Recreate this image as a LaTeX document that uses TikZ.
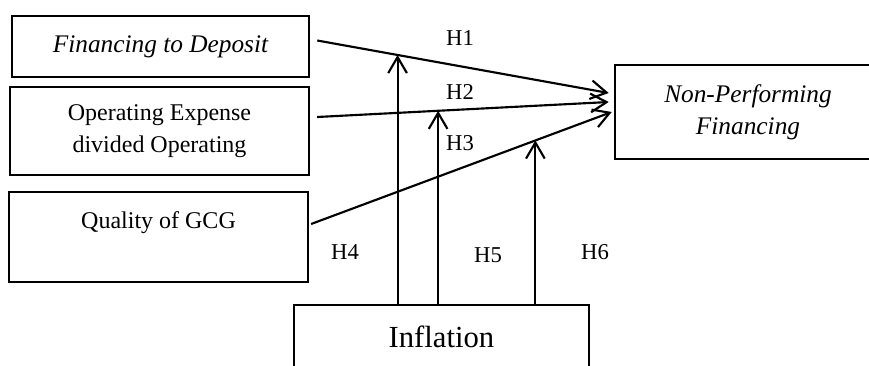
\documentclass[tikz,border=0pt]{standalone}
\usepackage{fontspec}
\setmainfont{Liberation Serif}
\usepackage{xcolor}
\definecolor{PlainInk}{RGB}{0,0,0}
\usetikzlibrary{arrows.meta}

\begin{document}
\begin{tikzpicture}[
    x=0.75pt, y=-0.75pt,
    varbox/.style={
        draw=PlainInk, line width=1.9pt,
        font=\fontsize{18}{24}\selectfont, text=PlainInk,
        align=center, inner sep=0pt
    },
    effect/.style={
        -{Straight Barb[length=12pt, width=14pt, line width=1.6pt]},
        line width=1.6pt, draw=PlainInk
    },
    hlabel/.style={
        font=\fontsize{17}{19}\selectfont, text=PlainInk
    }
]
\useasboundingbox (0,0) rectangle (869,365);

% ====== VARIABLES ======
\node[varbox, minimum width=222.75pt, minimum height=45.75pt] (fdr) at (160.5, 46.5)
    {\fontsize{19}{24}\selectfont\itshape Financing to Deposit};
\node[varbox, minimum width=224pt, minimum height=66pt] (bopo) at (159.5, 131)
    {Operating Expense\\divided Operating};
\node[varbox, minimum width=224pt, minimum height=67.5pt,
      text height=11pt, text depth=24.5pt] (gcg) at (158.5, 237) {Quality of GCG};
\node[varbox, minimum width=199.5pt, minimum height=70.5pt,
      font=\fontsize{19}{24}\selectfont\itshape] (npf) at (748, 112)
    {Non-Performing\\Financing};
\node[varbox, minimum width=221pt, minimum height=48pt,
      font=\fontsize{23}{26}\selectfont] (infl) at (441.5, 337) {Inflation};

% ====== PENGARUH LANGSUNG ======
\draw[effect] ([shift={(7,-6)}]fdr.east) -- coordinate[pos=0.2755] (m1)
    ([shift={(-5,-19)}]npf.west);
\draw[effect] ([shift={(7,-14)}]bopo.east) -- coordinate[pos=0.415] (m2)
    ([shift={(-5,-10)}]npf.west);
\draw[effect] ([shift={(2,-13)}]gcg.east) -- coordinate[pos=0.746] (m3)
    ([shift={(-2,0)}]npf.west);

% ====== MODERASI ======
\foreach \m in {m1, m2, m3}
    \draw[effect] (infl.north -| \m) -- (\m);

% ====== LABEL HIPOTESIS ======
\node[hlabel] (h1) at (460, 38)  {H1};
\node[hlabel] (h2) at (460, 92)  {H2};
\node[hlabel] (h3) at (460, 143) {H3};
\node[hlabel] (h4) at (345, 252) {H4};
\node[hlabel] (h5) at (488, 255) {H5};
\node[hlabel] (h6) at (595, 252) {H6};

\end{tikzpicture}
\end{document}
